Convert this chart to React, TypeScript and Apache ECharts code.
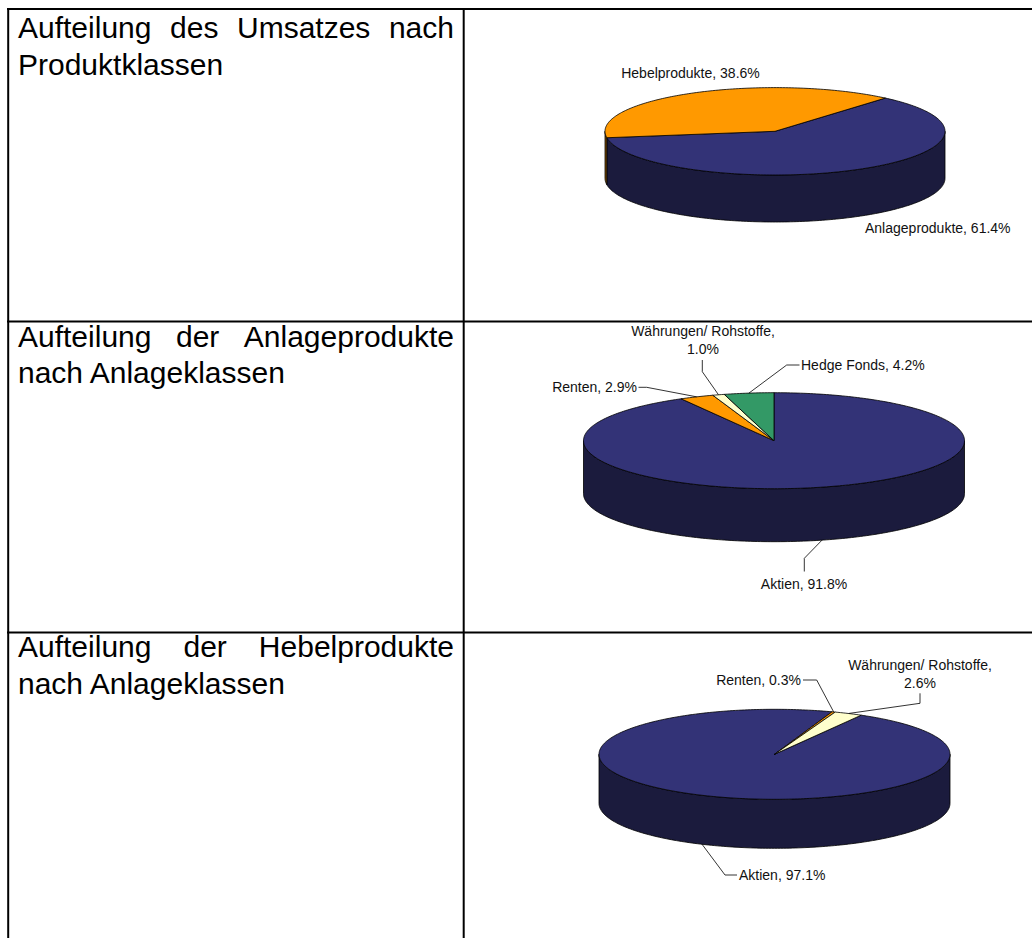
import React, { useEffect, useRef } from "react";
import * as echarts from "echarts";

// ---------- data ----------
const rowTitles: string[][] = [
  ["Aufteilung des Umsatzes nach", "Produktklassen"],
  ["Aufteilung der Anlageprodukte", "nach Anlageklassen"],
  ["Aufteilung der Hebelprodukte", "nach Anlageklassen"],
];

const pie1Names = ["Anlageprodukte", "Hebelprodukte"];
const pie1Values = [61.4, 38.6];

const pie2Names = ["Aktien", "Renten", "Währungen/ Rohstoffe", "Hedge Fonds"];
const pie2Values = [91.8, 2.9, 1.0, 4.2];

const pie3Names = ["Aktien", "Renten", "Währungen/ Rohstoffe"];
const pie3Values = [97.1, 0.3, 2.6];

// ---------- styles / layout ----------
const FONT = "'Liberation Sans', Arial, Helvetica, sans-serif";

const categoryColors: Record<string, { top: string; side: string }> = {
  Anlageprodukte: { top: "#333377", side: "#1b1b3d" },
  Aktien: { top: "#333377", side: "#1b1b3d" },
  Hebelprodukte: { top: "#ff9900", side: "#7f4c00" },
  Renten: { top: "#ff9900", side: "#7f4c00" },
  "Währungen/ Rohstoffe": { top: "#ffffcc", side: "#7f7f66" },
  "Hedge Fonds": { top: "#339966", side: "#1a4d33" },
};

type Geo = { cx: number; cy: number; rx: number; ry: number; depth: number; start: number };
type LabelCfg = {
  x: number;
  y: number;
  align: "left" | "right" | "center";
  wrap?: boolean;
  gap?: number;
  leader?: number[][];
};

const pieGeometry: Geo[] = [
  { cx: 775, cy: 131.3, rx: 170, ry: 43.7, depth: 47, start: 49.5 },
  { cx: 774, cy: 440.7, rx: 190.5, ry: 48, depth: 53, start: 90 },
  { cx: 774.5, cy: 754.3, rx: 175.5, ry: 45, depth: 49, start: 60.4 },
];

const pieLabels: LabelCfg[][] = [
  [
    { x: 865, y: 227.8, align: "left" },
    { x: 690.5, y: 72.8, align: "center" },
  ],
  [
    { x: 804, y: 583.5, align: "center", leader: [[804.3, 558.3], [804.3, 571.5]] },
    { x: 637, y: 386.8, align: "right", leader: [[646.7, 387.3], [638.5, 387.3]] },
    { x: 703, y: 331.2, align: "center", wrap: true, gap: 18, leader: [[702.3, 371.7], [702.3, 360]] },
    { x: 801, y: 365.2, align: "left", leader: [[786.7, 365], [799.5, 365]] },
  ],
  [
    { x: 739, y: 875.2, align: "left", leader: [[725, 875], [737, 875]] },
    { x: 801, y: 679.5, align: "right", leader: [[816.7, 680], [803, 680]] },
    { x: 920, y: 664.5, align: "center", wrap: true, gap: 18.3, leader: [[920, 703.3], [920, 693.3]] },
  ],
];

function arcPoints(g: Geo, from: number, to: number, dy: number): number[][] {
  const pts: number[][] = [];
  const span = to - from;
  const n = Math.max(1, Math.ceil(Math.abs(span) / 1));
  for (let k = 0; k <= n; k++) {
    const t = ((from + (span * k) / n) * Math.PI) / 180;
    pts.push([g.cx + g.rx * Math.cos(t), g.cy - g.ry * Math.sin(t) + dy]);
  }
  return pts;
}

function makeRenderItem(names: string[], values: number[], g: Geo, labels: LabelCfg[]) {
  const total = values.reduce((a, b) => a + b, 0);
  return (params: any, api: any) => {
    const i = params.dataIndex;
    const v = api.value(0) as number;
    let before = 0;
    for (let k = 0; k < i; k++) before += values[k];
    const a1 = g.start - (before / total) * 360; // higher angle (start, clockwise)
    const a2 = a1 - (v / total) * 360; // lower angle
    const col = categoryColors[names[i]];
    const children: any[] = [];

    // side walls (front half only: angles in (180, 360) mod 360)
    for (let k = -2; k <= 2; k++) {
      const lo = Math.max(a2, 180 + 360 * k);
      const hi = Math.min(a1, 360 + 360 * k);
      if (hi > lo) {
        const top = arcPoints(g, lo, hi, 0);
        const bottom = arcPoints(g, hi, lo, g.depth);
        children.push({
          type: "polygon",
          z2: 1,
          shape: { points: top.concat(bottom) },
          style: { fill: col.side, stroke: "#000", lineWidth: 0.8, lineJoin: "round" },
        });
      }
    }

    // top face
    const topPts = [[g.cx, g.cy]].concat(arcPoints(g, a1, a2, 0));
    children.push({
      type: "polygon",
      z2: 2,
      shape: { points: topPts },
      style: { fill: col.top, stroke: "#000", lineWidth: 0.8, lineJoin: "round" },
    });

    // label + leader
    const lab = labels[i];
    const mid = ((a1 + a2) / 2) * (Math.PI / 180);
    const front = Math.sin(mid) < 0;
    const sx = g.cx + g.rx * Math.cos(mid);
    const sy = g.cy - g.ry * Math.sin(mid) + (front ? g.depth : 0);
    if (lab.leader) {
      children.push({
        type: "polyline",
        z2: 3,
        shape: { points: [[sx, sy]].concat(lab.leader) },
        style: { stroke: "#000", lineWidth: 0.8, fill: null },
      });
    }
    const valText = v.toFixed(1) + "%";
    const lines = lab.wrap ? [names[i] + ",", valText] : [names[i] + ", " + valText];
    lines.forEach((t, li) => {
      children.push({
        type: "text",
        z2: 4,
        style: {
          text: t,
          x: lab.x,
          y: lab.y + li * (lab.gap || 18),
          fill: "#111",
          font: "14px " + FONT,
          align: lab.align,
          verticalAlign: "middle",
        },
      });
    });

    return { type: "group", children };
  };
}

function measure(text: string, font: string): number {
  const c = document.createElement("canvas").getContext("2d")!;
  c.font = font;
  return c.measureText(text).width;
}

export default function App() {
  const ref = useRef<HTMLDivElement>(null);

  useEffect(() => {
    if (!ref.current) return;
    const chart = echarts.init(ref.current, undefined, { renderer: "svg" });

    const titleFont = "30px " + FONT;
    const textLeft = 18;
    const textRight = 454;
    const rowMidY = [
      [27.9, 64.6],
      [336.3, 372.6],
      [646.3, 683.6],
    ];

    const graphics: any[] = [];
    // table lines
    const hLines = [9, 321.5, 632.5];
    hLines.forEach((y) =>
      graphics.push({
        type: "line",
        shape: { x1: 7, y1: y, x2: 1032, y2: y },
        style: { stroke: "#000", lineWidth: 2 },
      })
    );
    [8.2, 463.7].forEach((x) =>
      graphics.push({
        type: "line",
        shape: { x1: x, y1: 8, x2: x, y2: 938 },
        style: { stroke: "#000", lineWidth: 2 },
      })
    );

    // row titles (first line justified)
    rowTitles.forEach((lines, r) => {
      const words = lines[0].split(" ");
      const widths = words.map((w) => measure(w, titleFont));
      const sum = widths.reduce((a, b) => a + b, 0);
      const gap = (textRight - textLeft - sum) / (words.length - 1);
      let x = textLeft;
      words.forEach((w, wi) => {
        graphics.push({
          type: "text",
          style: {
            text: w,
            x,
            y: rowMidY[r][0],
            font: titleFont,
            fill: "#000",
            align: "left",
            verticalAlign: "middle",
          },
        });
        x += widths[wi] + gap;
      });
      graphics.push({
        type: "text",
        style: {
          text: lines[1],
          x: textLeft,
          y: rowMidY[r][1],
          font: titleFont,
          fill: "#000",
          align: "left",
          verticalAlign: "middle",
        },
      });
    });

    const pies = [
      { names: pie1Names, values: pie1Values },
      { names: pie2Names, values: pie2Values },
      { names: pie3Names, values: pie3Values },
    ];

    const series = pies.map((p, idx) => ({
      type: "custom",
      coordinateSystem: "none",
      silent: true,
      renderItem: makeRenderItem(p.names, p.values, pieGeometry[idx], pieLabels[idx]),
      data: p.values.map((v, i) => ({ name: p.names[i], value: [v] })),
    }));

    chart.setOption({
      animation: false,
      backgroundColor: "#ffffff",
      graphic: { elements: graphics },
      series,
    } as any);

    return () => chart.dispose();
  }, []);

  return (
    <div
      ref={ref}
      style={{ position: "absolute", left: 0, top: 0, width: 1032, height: 938, background: "#fff" }}
    />
  );
}
